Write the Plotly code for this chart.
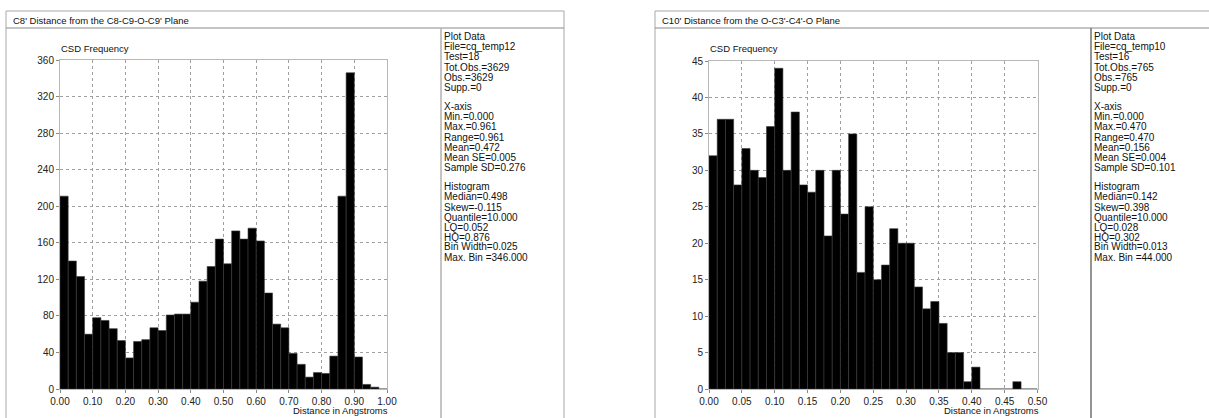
import plotly.graph_objects as go

# ---------------- data ----------------
left_title = "C8' Distance from the C8-C9-O-C9' Plane"
left_bin_width = 0.025
left_counts = [211, 140, 123, 60, 78, 75, 66, 53, 34, 52,
               54, 67, 64, 81, 82, 82, 95, 118, 134, 164,
               137, 173, 164, 176, 162, 105, 71, 67, 39, 27,
               13, 18, 17, 36, 211, 346, 35, 5, 2, 0]
left_xticks = [0.0, 0.1, 0.2, 0.3, 0.4, 0.5, 0.6, 0.7, 0.8, 0.9, 1.0]
left_yticks = [0, 40, 80, 120, 160, 200, 240, 280, 320, 360]
left_info = ["Plot Data", "File=cq_temp12", "Test=18", "Tot.Obs.=3629", "Obs.=3629", "Supp.=0", "",
             "X-axis", "Min.=0.000", "Max.=0.961", "Range=0.961", "Mean=0.472", "Mean SE=0.005",
             "Sample SD=0.276", "", "Histogram", "Median=0.498", "Skew=-0.115", "Quantile=10.000",
             "LQ=0.052", "HQ=0.876", "Bin Width=0.025", "Max. Bin =346.000"]

right_title = "C10' Distance from the O-C3'-C4'-O Plane"
right_bin_width = 0.0125
right_counts = [32, 37, 37, 28, 33, 30, 29, 36, 44, 30,
                38, 28, 27, 30, 21, 30, 24, 35, 16, 25,
                15, 17, 22, 20, 20, 14, 11, 12, 9, 5,
                5, 1, 3, 0, 0, 0, 0, 1, 0, 0]
right_xticks = [0.0, 0.05, 0.10, 0.15, 0.20, 0.25, 0.30, 0.35, 0.40, 0.45, 0.50]
right_yticks = [0, 5, 10, 15, 20, 25, 30, 35, 40, 45]
right_info = ["Plot Data", "File=cq_temp10", "Test=16", "Tot.Obs.=765", "Obs.=765", "Supp.=0", "",
              "X-axis", "Min.=0.000", "Max.=0.470", "Range=0.470", "Mean=0.156", "Mean SE=0.004",
              "Sample SD=0.101", "", "Histogram", "Median=0.142", "Skew=0.398", "Quantile=10.000",
              "LQ=0.028", "HQ=0.302", "Bin Width=0.013", "Max. Bin =44.000"]

y_label = "CSD Frequency"
x_label = "Distance in Angstroms"

# ---------------- layout helpers ----------------
W, H = 1209, 418
FONT = "Liberation Sans, Arial, sans-serif"


def px(x):
    return x / W


def py(y):
    return (H - y) / H


fig = go.Figure()

panels = [
    dict(counts=left_counts, bw=left_bin_width, xt=left_xticks, yt=left_yticks, xr=[0, 1.0], yr=[0, 360],
         xfmt="%.2f", plot=(60, 387, 60, 389), frame=(6, 564), divider=441, div_color="#b0b0b0",
         title=left_title, info=left_info, ax="x", ay="y"),
    dict(counts=right_counts, bw=right_bin_width, xt=right_xticks, yt=right_yticks, xr=[0, 0.5], yr=[0, 45],
         xfmt="%.2f", plot=(709, 1037.5, 61, 389), frame=(655, 1240), divider=1091, div_color="#707070",
         title=right_title, info=right_info, ax="x2", ay="y2"),
]

shapes = []
annotations = []

for i, p in enumerate(panels):
    n = len(p["counts"])
    lefts = [k * p["bw"] for k in range(n)]
    fig.add_trace(go.Bar(
        x=lefts, y=p["counts"], width=[p["bw"]] * n, offset=0,
        marker=dict(color="black", line=dict(color="#3a3a3a", width=0.6)),
        xaxis=p["ax"], yaxis=p["ay"], showlegend=False, hoverinfo="skip"))

    x0, x1, y0, y1 = p["plot"]
    suffix = "" if i == 0 else "2"
    axis_common = dict(showgrid=True, gridcolor="#a0a0a0", griddash="dot", gridwidth=1,
                       showline=True, linecolor="#b8b8b8", linewidth=1, mirror=True,
                       ticks="outside", ticklen=3, tickcolor="#888", zeroline=False,
                       automargin=False, fixedrange=True,
                       tickfont=dict(family=FONT, size=10, color="#222"))
    fig.layout["xaxis" + suffix] = dict(
        domain=[px(x0), px(x1)], range=p["xr"], tickvals=p["xt"],
        ticktext=[p["xfmt"] % v for v in p["xt"]], anchor="y" + suffix, **axis_common)
    fig.layout["yaxis" + suffix] = dict(
        domain=[py(y1), py(y0)], range=p["yr"], tickvals=p["yt"],
        ticktext=[str(v) for v in p["yt"]], anchor="x" + suffix, **axis_common)

    fx0, fx1 = p["frame"]
    # outer frame
    shapes.append(dict(type="rect", xref="paper", yref="paper", x0=px(fx0), x1=px(fx1), y0=py(430), y1=py(11),
                       line=dict(color="#a8a8a8", width=1), layer="below"))
    # title bar separator
    shapes.append(dict(type="line", xref="paper", yref="paper", x0=px(fx0), x1=px(fx1), y0=py(28), y1=py(28),
                       line=dict(color="#8a8a8a", width=1)))
    # divider between plot and info
    shapes.append(dict(type="line", xref="paper", yref="paper", x0=px(p["divider"]), x1=px(p["divider"]),
                       y0=py(28), y1=py(430), line=dict(color=p["div_color"], width=1.5)))

    annotations.append(dict(text=p["title"], xref="paper", yref="paper", x=px(fx0 + 5), y=py(20),
                            xanchor="left", yanchor="middle", showarrow=False,
                            font=dict(family=FONT, size=9.5, color="#111")))
    annotations.append(dict(text=y_label, xref="paper", yref="paper", x=px(x0 - 1), y=py(48),
                            xanchor="left", yanchor="middle", showarrow=False,
                            font=dict(family=FONT, size=9.5, color="#111")))
    annotations.append(dict(text=x_label, xref="paper", yref="paper", x=px(x1 + 3), y=py(410),
                            xanchor="right", yanchor="middle", showarrow=False,
                            font=dict(family=FONT, size=9.5, color="#111")))
    for j, line in enumerate(p["info"]):
        if not line:
            continue
        annotations.append(dict(text=line, xref="paper", yref="paper", x=px(p["divider"] + 1), y=py(37 + 10 * j),
                                xanchor="left", yanchor="middle", showarrow=False,
                                font=dict(family=FONT, size=10, color="#111")))

fig.update_layout(
    width=W, height=H, margin=dict(l=0, r=0, t=0, b=0, autoexpand=False),
    paper_bgcolor="white", plot_bgcolor="white", hovermode=False,
    bargap=0, shapes=shapes, annotations=annotations,
)

fig.write_html("out.html",
               config={"displayModeBar": False, "staticPlot": True},
               post_script="document.body.style.margin='0';document.body.style.padding='0';"
                           "document.body.style.overflow='hidden';")
